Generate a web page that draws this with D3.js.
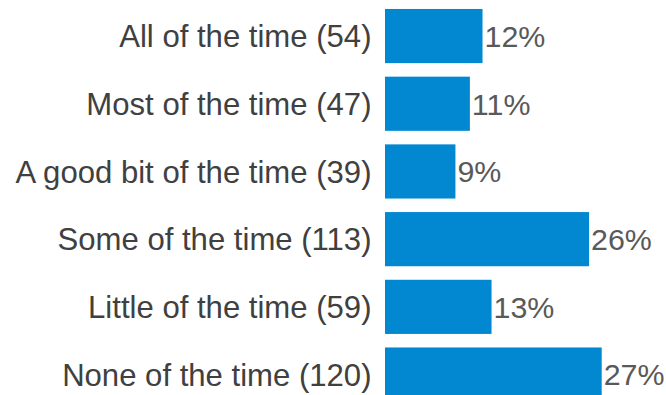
<!DOCTYPE html>
<html>
<head>
<meta charset="utf-8">
<script src="https://cdn.jsdelivr.net/npm/d3@7/dist/d3.min.js"></script>
<style>
  html, body { margin: 0; padding: 0; background: #fff; }
  svg { display: block; }
  text { font-family: Arial, "Liberation Sans", sans-serif; }
</style>
</head>
<body>
<svg id="chart" width="666" height="395"></svg>
<script>
const categories = ["All of the time", "Most of the time", "A good bit of the time", "Some of the time", "Little of the time", "None of the time"];
const counts = [54, 47, 39, 113, 59, 120];
const percentLabels = ["12%", "11%", "9%", "26%", "13%", "27%"];

const svg = d3.select("#chart");
const data = categories.map((c, i) => ({ cat: c, n: counts[i], pct: percentLabels[i] }));

const x = d3.scaleLinear().domain([0, 120]).range([385, 601.7]);
const y = d3.scaleBand().domain(categories).range([2.2, 408.4]).paddingInner(0.2).paddingOuter(0.1);

svg.append("g").selectAll("rect").data(data).join("rect")
  .attr("x", x(0))
  .attr("y", d => y(d.cat))
  .attr("width", d => x(d.n) - x(0))
  .attr("height", y.bandwidth())
  .attr("fill", "#0288d1");

svg.append("g").selectAll("text").data(data).join("text")
  .attr("x", 371.5)
  .attr("y", d => y(d.cat) + y.bandwidth() / 2)
  .attr("dy", "0.36em")
  .attr("text-anchor", "end")
  .attr("font-size", 31.1)
  .attr("fill", "#404040")
  .text(d => `${d.cat} (${d.n})`);

svg.append("g").selectAll("text").data(data).join("text")
  .attr("x", d => x(d.n) + 2)
  .attr("y", d => y(d.cat) + y.bandwidth() / 2)
  .attr("dy", "0.36em")
  .attr("font-size", 30.4)
  .attr("fill", "#595959")
  .text(d => d.pct);
</script>
</body>
</html>
